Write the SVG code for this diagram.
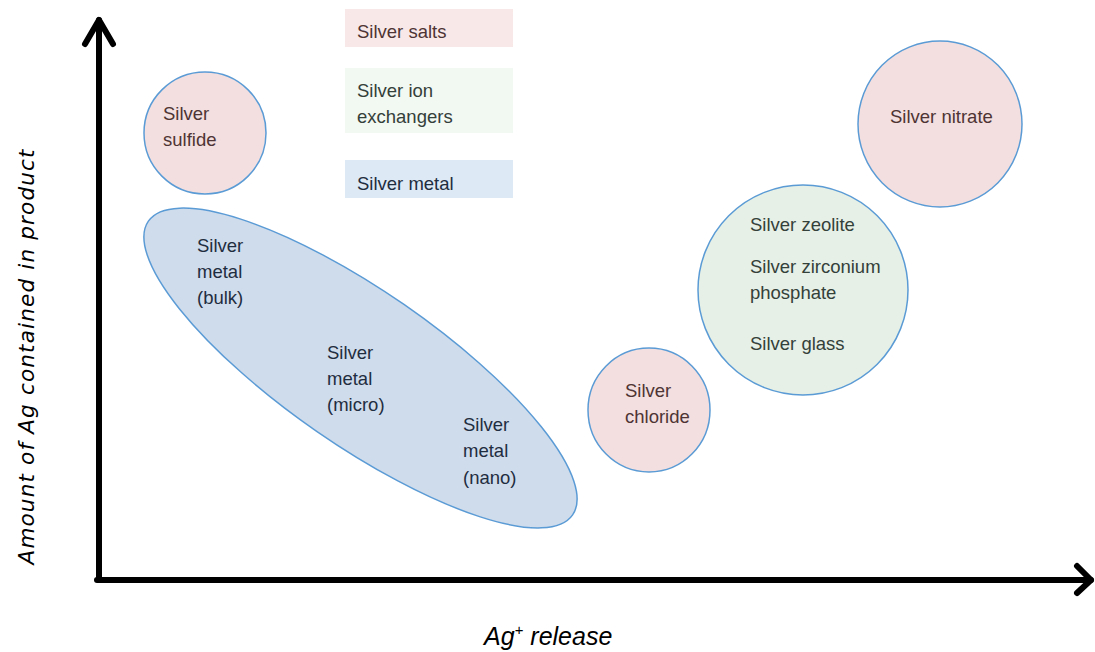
<svg xmlns="http://www.w3.org/2000/svg" width="1095" height="652" viewBox="0 0 1095 652">
<style>
.t{font-family:"Liberation Sans",Arial,sans-serif;font-size:18.5px}
.salt{fill:#f3dfdf;stroke:#5b9bd5;stroke-width:1.5}
.ion{fill:#e6f0e6;stroke:#5b9bd5;stroke-width:1.5}
.metal{fill:#cfdcec;stroke:#5b9bd5;stroke-width:1.5}
.ts{fill:#4e3434}
.ti{fill:#34403a}
.tm{fill:#1f2d40}
.axis{fill:none;stroke:#000;stroke-width:6;stroke-linecap:round;stroke-linejoin:round}
</style>
<rect width="1095" height="652" fill="#fff"/>
<g id="legend-salts"><rect x="345" y="9" width="168" height="38" fill="#f8e8e8"/><text class="t ts" x="357" y="38">Silver salts</text></g>
<g id="legend-ion"><rect x="345" y="68" width="168" height="65" fill="#f2f8f2"/><text class="t ti" x="357" y="97">Silver ion</text><text class="t ti" x="357" y="123">exchangers</text></g>
<g id="legend-metal"><rect x="345" y="160" width="168" height="38" fill="#dde9f5"/><text class="t tm" x="357" y="190">Silver metal</text></g>
<g id="sulfide"><circle class="salt" cx="205" cy="133" r="61"/><text class="t ts" x="163" y="120">Silver</text><text class="t ts" x="163" y="146">sulfide</text></g>
<g id="metal"><ellipse class="metal" cx="360.5" cy="368" rx="258" ry="77" transform="rotate(34.7 360.5 368)"/>
<text class="t tm" x="197" y="252">Silver</text><text class="t tm" x="197" y="278">metal</text><text class="t tm" x="197" y="304">(bulk)</text>
<text class="t tm" x="327" y="359">Silver</text><text class="t tm" x="327" y="385">metal</text><text class="t tm" x="327" y="411">(micro)</text>
<text class="t tm" x="463" y="431">Silver</text><text class="t tm" x="463" y="457">metal</text><text class="t tm" x="463" y="484">(nano)</text></g>
<g id="chloride"><ellipse class="salt" cx="649" cy="410" rx="61" ry="62"/><text class="t ts" x="625" y="397">Silver</text><text class="t ts" x="625" y="423">chloride</text></g>
<g id="ionex"><circle class="ion" cx="803" cy="290" r="105"/><text class="t ti" x="750" y="231">Silver zeolite</text><text class="t ti" x="750" y="273">Silver zirconium</text><text class="t ti" x="750" y="299">phosphate</text><text class="t ti" x="750" y="350">Silver glass</text></g>
<g id="nitrate"><ellipse class="salt" cx="940" cy="124" rx="82" ry="83"/><text class="t ts" x="890" y="123">Silver nitrate</text></g>
<g id="axes">
<path class="axis" d="M99 580 V20"/>
<path class="axis" d="M85 44 L99 20 L113 44"/>
<path class="axis" d="M97 580 H1091"/>
<path class="axis" d="M1077 566 L1091 580 L1077 593"/>
</g>
<text font-family="DejaVu Sans,sans-serif" font-style="oblique" font-size="21.5" fill="#000" text-anchor="middle" textLength="415" lengthAdjust="spacing" transform="translate(34 357) rotate(-90)">Amount of Ag contained in product</text>
<text font-family="Liberation Sans,Arial,sans-serif" font-style="italic" font-size="25" fill="#000" x="484" y="645">Ag<tspan font-size="15" dy="-10">+</tspan><tspan dy="10"> release</tspan></text>
</svg>
